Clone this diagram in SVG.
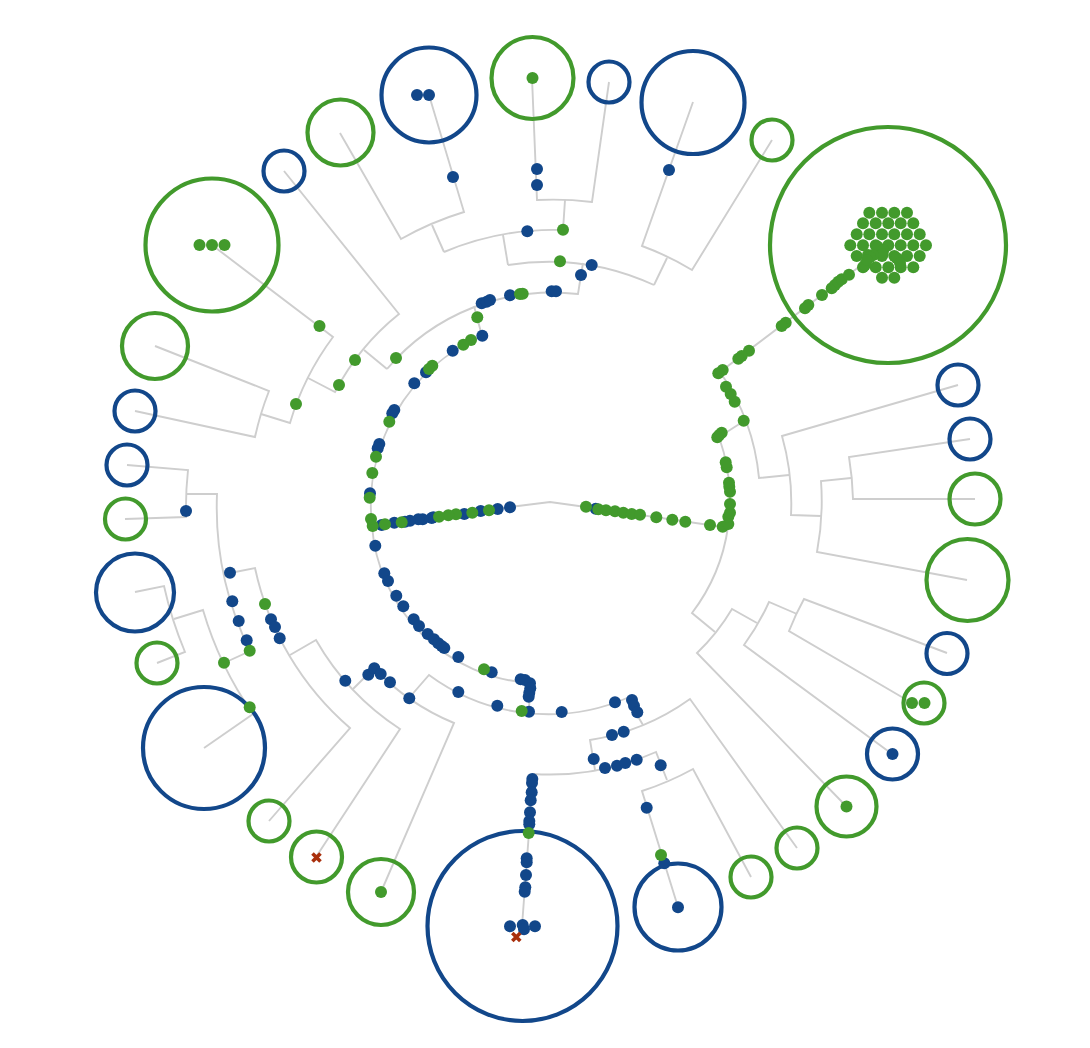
<svg xmlns="http://www.w3.org/2000/svg" width="1090" height="1048" viewBox="0 0 1090 1048">
<style>
.l{fill:none;stroke:#cecece;stroke-width:1.9}
.rb{fill:none;stroke:#12478a;stroke-width:4.2}
.rg{fill:none;stroke:#429a2c;stroke-width:4.2}
.b{fill:#12478a}
.g{fill:#429a2c}
.x{fill:none;stroke:#a92f0c;stroke-width:3.6}
</style>
<defs>
<circle id="d" r="6"/>
<path id="c" d="M-4-4L4 4M-4 4L4-4"/>
</defs>
<rect width="1090" height="1048" fill="#ffffff"/>
<g id="connectors" class="l">
<path d="M372 526L510 507L550 502L586 507L723 527"/>
<path d="M530 683A170 170 0 0 1 372 526A185 185 0 0 1 482 336L474 306"/>
<path d="M530 683L529 712"/>
<path d="M387 369A217 217 0 0 1 578 294L581 275L583 263"/>
<path d="M508 265A254 254 0 0 1 654 285"/>
<path d="M508 265L503 235"/>
<path d="M444 252A282 282 0 0 1 563 230L565 200"/>
<path d="M532 78L537 200A313 313 0 0 1 592 202L609 82"/>
<path d="M432 225L444 252"/>
<path d="M340 133L401 239A310 310 0 0 1 464 212L429 95"/>
<path d="M654 285L667 258"/>
<path d="M693 102L642 246A283 283 0 0 1 692 270L772 140"/>
<path d="M364 350L387 369"/>
<path d="M284 171L399 314A244 244 0 0 0 335 392L308 378"/>
<path d="M212 245L333 337A272 272 0 0 0 290 423L261 414"/>
<path d="M155 346L269 391A300 300 0 0 0 255 437L135 411"/>
<path d="M187 494L217 494A328 328 0 0 0 250 651L224 663"/>
<path d="M127 465L188 470A360 360 0 0 0 186 517L125 519"/>
<path d="M174 619L203 610A354 354 0 0 0 253 714L204 748"/>
<path d="M135 592L164 586A385 385 0 0 0 185 652L157 663"/>
<path d="M230 573L255 568A292 292 0 0 0 350 728L269 821"/>
<path d="M290 655L316 640A261 261 0 0 0 400 729L316 857"/>
<path d="M353 689L374 668A231 231 0 0 0 454 723L381 892"/>
<path d="M409 698L429 675A200 200 0 0 0 627 698L643 725"/>
<path d="M797 848L690 699A234 234 0 0 1 590 740L595 770"/>
<path d="M533 774A262 262 0 0 0 656 752L667 780"/>
<path d="M678 907L642 791A290 290 0 0 0 693 769L751 877"/>
<path d="M533 774L529 832L522 926"/>
<path d="M719 437L744 421"/>
<path d="M888 245L720 372A220 220 0 0 1 759 478L789 475"/>
<path d="M958 385L782 436A245 245 0 0 1 791 515L821 516"/>
<path d="M851 478L821 481A275 275 0 0 1 817 552L967 580"/>
<path d="M970 439L849 457A305 305 0 0 1 853 499L975 499"/>
<path d="M719 437A190 190 0 0 1 728 527"/>
<path d="M728 527A185 185 0 0 1 692 613L715 632"/>
<path d="M846 806L697 653A208 208 0 0 0 732 609L757 623"/>
<path d="M892 754L744 645A240 240 0 0 0 769 602L797 614"/>
<path d="M947 653L804 599A270 270 0 0 0 789 631L912 703"/>
</g>
<g id="n-blue-1"><circle class="rb" cx="429" cy="95" r="47.5"/></g>
<g id="n-blue-2"><circle class="rb" cx="609" cy="82" r="20.5"/></g>
<g id="n-blue-3"><circle class="rb" cx="693" cy="102.5" r="51.5"/></g>
<g id="n-blue-4"><circle class="rb" cx="958" cy="385" r="20.5"/></g>
<g id="n-blue-5"><circle class="rb" cx="970" cy="439" r="20.5"/></g>
<g id="n-blue-6"><circle class="rb" cx="947" cy="653.5" r="20.5"/></g>
<g id="n-blue-7"><circle class="rb" cx="892.5" cy="754" r="25.5"/></g>
<g id="n-blue-8"><circle class="rb" cx="678" cy="907" r="43.5"/></g>
<g id="n-blue-9"><circle class="rb" cx="522.5" cy="926" r="95"/></g>
<g id="n-blue-10"><circle class="rb" cx="204" cy="748" r="61"/></g>
<g id="n-blue-11"><circle class="rb" cx="135" cy="592.5" r="39"/></g>
<g id="n-blue-12"><circle class="rb" cx="127" cy="465" r="20.5"/></g>
<g id="n-blue-13"><circle class="rb" cx="135" cy="411" r="20.5"/></g>
<g id="n-blue-14"><circle class="rb" cx="284" cy="171" r="20.5"/></g>
<g id="n-green-1"><circle class="rg" cx="532.5" cy="78" r="41"/></g>
<g id="n-green-2"><circle class="rg" cx="772" cy="140" r="20.5"/></g>
<g id="n-green-3"><circle class="rg" cx="888" cy="245" r="118"/></g>
<g id="n-green-4"><circle class="rg" cx="975" cy="499" r="25.5"/></g>
<g id="n-green-5"><circle class="rg" cx="967.5" cy="580" r="41"/></g>
<g id="n-green-6"><circle class="rg" cx="924" cy="703" r="20.5"/></g>
<g id="n-green-7"><circle class="rg" cx="846.5" cy="806.5" r="30"/></g>
<g id="n-green-8"><circle class="rg" cx="797" cy="848" r="20.5"/></g>
<g id="n-green-9"><circle class="rg" cx="751" cy="877" r="20.5"/></g>
<g id="n-green-10"><circle class="rg" cx="381" cy="892" r="33"/></g>
<g id="n-green-11"><circle class="rg" cx="316.5" cy="857" r="25.5"/></g>
<g id="n-green-12"><circle class="rg" cx="269" cy="821" r="20.5"/></g>
<g id="n-green-13"><circle class="rg" cx="157" cy="663" r="20.5"/></g>
<g id="n-green-14"><circle class="rg" cx="125.5" cy="519" r="20.5"/></g>
<g id="n-green-15"><circle class="rg" cx="155" cy="346" r="33"/></g>
<g id="n-green-16"><circle class="rg" cx="212" cy="245" r="66.5"/></g>
<g id="n-green-17"><circle class="rg" cx="340.5" cy="132.5" r="33"/></g>
<g id="dots-blue" class="b">
<use href="#d" x="417" y="95"/><use href="#d" x="429" y="95"/><use href="#d" x="453" y="177"/><use href="#d" x="537" y="169"/><use href="#d" x="537" y="185"/><use href="#d" x="669" y="170"/>
<use href="#d" x="186" y="511"/><use href="#d" x="892.5" y="754"/><use href="#d" x="678" y="907.3"/>
<use href="#d" x="527.3" y="231.3"/><use href="#d" x="591.7" y="265"/><use href="#d" x="581" y="275"/><use href="#d" x="551.7" y="291.3"/><use href="#d" x="556" y="291.3"/><use href="#d" x="510" y="295.3"/><use href="#d" x="481.7" y="303.3"/><use href="#d" x="486.7" y="301.7"/><use href="#d" x="490" y="300"/>
<use href="#d" x="482.3" y="335.7"/><use href="#d" x="452.7" y="350.7"/><use href="#d" x="426" y="372.3"/><use href="#d" x="414.3" y="383.3"/><use href="#d" x="394.3" y="410"/><use href="#d" x="392.3" y="413.3"/><use href="#d" x="379.3" y="444"/><use href="#d" x="377.7" y="448.3"/><use href="#d" x="370" y="493.3"/>
<use href="#d" x="510" y="507.3"/><use href="#d" x="497.7" y="509"/><use href="#d" x="480.7" y="511"/><use href="#d" x="464.3" y="514"/><use href="#d" x="433.3" y="517.3"/><use href="#d" x="431.7" y="518"/><use href="#d" x="422.7" y="519.3"/><use href="#d" x="418.3" y="519.3"/><use href="#d" x="410" y="520.7"/><use href="#d" x="405" y="521.7"/><use href="#d" x="394.3" y="522.7"/><use href="#d" x="381.7" y="525"/><use href="#d" x="595.7" y="508.7"/>
<use href="#d" x="375.3" y="545.7"/><use href="#d" x="384.3" y="573.3"/><use href="#d" x="388" y="581"/><use href="#d" x="396.3" y="595.7"/><use href="#d" x="403.3" y="606.3"/><use href="#d" x="413.7" y="619.3"/><use href="#d" x="419" y="626"/><use href="#d" x="427.7" y="634"/><use href="#d" x="434" y="639.3"/><use href="#d" x="438.3" y="643.3"/><use href="#d" x="441.7" y="646"/><use href="#d" x="444.3" y="648"/><use href="#d" x="458.3" y="657"/><use href="#d" x="491.7" y="672.3"/><use href="#d" x="520.7" y="679.3"/><use href="#d" x="525" y="680"/><use href="#d" x="530" y="683.3"/><use href="#d" x="530.3" y="688.3"/><use href="#d" x="529.3" y="692.7"/><use href="#d" x="528.7" y="696.7"/><use href="#d" x="529" y="711.7"/>
<use href="#d" x="230" y="572.7"/><use href="#d" x="232.3" y="601.3"/><use href="#d" x="238.7" y="621"/><use href="#d" x="246.7" y="640.3"/><use href="#d" x="271" y="619.3"/><use href="#d" x="275" y="627"/><use href="#d" x="279.7" y="638.3"/><use href="#d" x="345.3" y="680.7"/>
<use href="#d" x="368.3" y="674.7"/><use href="#d" x="374.3" y="668.3"/><use href="#d" x="380.7" y="674"/><use href="#d" x="390" y="682.3"/><use href="#d" x="409.3" y="698.3"/><use href="#d" x="458.3" y="692"/><use href="#d" x="497.3" y="705.7"/><use href="#d" x="561.7" y="712"/><use href="#d" x="615" y="702.3"/><use href="#d" x="632" y="700"/><use href="#d" x="634" y="705.7"/><use href="#d" x="637.3" y="712.3"/><use href="#d" x="623.7" y="731.7"/><use href="#d" x="612" y="735"/><use href="#d" x="593.7" y="759"/><use href="#d" x="605" y="768"/><use href="#d" x="617" y="765.7"/><use href="#d" x="625.3" y="763"/><use href="#d" x="636.7" y="759.7"/><use href="#d" x="660.7" y="765.3"/><use href="#d" x="646.7" y="807.7"/><use href="#d" x="664.3" y="863.3"/>
<use href="#d" x="532.3" y="779"/><use href="#d" x="532" y="783"/><use href="#d" x="531.7" y="792.3"/><use href="#d" x="530.7" y="800.3"/><use href="#d" x="530" y="812.3"/><use href="#d" x="529.3" y="821"/><use href="#d" x="529.3" y="824.3"/><use href="#d" x="526.7" y="858.3"/><use href="#d" x="526.7" y="862.3"/><use href="#d" x="526" y="875"/><use href="#d" x="525.3" y="887.3"/><use href="#d" x="524.7" y="891.7"/><use href="#d" x="510" y="926.3"/><use href="#d" x="522.7" y="925"/><use href="#d" x="524" y="929.3"/><use href="#d" x="535" y="926.3"/>
</g>
<g id="dots-green" class="g">
<use href="#d" x="532.5" y="78"/><use href="#d" x="199.5" y="245"/><use href="#d" x="212" y="245"/><use href="#d" x="224.5" y="245"/><use href="#d" x="381" y="892"/><use href="#d" x="846.5" y="806.5"/><use href="#d" x="912" y="703"/><use href="#d" x="924.5" y="703"/>
<use href="#d" x="563" y="229.7"/><use href="#d" x="560" y="261.3"/><use href="#d" x="520" y="294"/><use href="#d" x="522.7" y="293.7"/><use href="#d" x="477.3" y="317.3"/><use href="#d" x="471" y="340"/><use href="#d" x="463.3" y="344.7"/><use href="#d" x="432.3" y="365.7"/><use href="#d" x="429" y="369"/><use href="#d" x="389.3" y="421.7"/><use href="#d" x="376" y="456.7"/><use href="#d" x="372.3" y="473"/><use href="#d" x="369.7" y="497.7"/>
<use href="#d" x="396" y="358"/><use href="#d" x="355" y="360"/><use href="#d" x="339" y="385"/><use href="#d" x="296" y="404"/><use href="#d" x="319.5" y="326"/>
<use href="#d" x="489" y="510.3"/><use href="#d" x="472.3" y="512.7"/><use href="#d" x="456" y="514.3"/><use href="#d" x="448.3" y="515.3"/><use href="#d" x="439" y="516.7"/><use href="#d" x="401.7" y="522.3"/><use href="#d" x="385" y="524.3"/><use href="#d" x="372.7" y="526"/><use href="#d" x="371" y="519"/>
<use href="#d" x="484" y="669.3"/><use href="#d" x="521.7" y="711"/><use href="#d" x="528.7" y="833"/><use href="#d" x="661" y="855"/>
<use href="#d" x="265" y="604"/><use href="#d" x="249.7" y="650.7"/><use href="#d" x="224" y="662.7"/><use href="#d" x="249.7" y="707.3"/>
<use href="#d" x="586" y="506.7"/><use href="#d" x="598.3" y="509.3"/><use href="#d" x="606" y="510.3"/><use href="#d" x="615" y="511.3"/><use href="#d" x="623.3" y="512.7"/><use href="#d" x="631.7" y="514"/><use href="#d" x="640" y="514.7"/><use href="#d" x="656.3" y="517.3"/><use href="#d" x="672.3" y="519.7"/><use href="#d" x="685.3" y="521.7"/><use href="#d" x="710" y="525"/><use href="#d" x="722.7" y="526.7"/><use href="#d" x="728.3" y="524"/><use href="#d" x="728.3" y="516.7"/><use href="#d" x="730" y="512.7"/><use href="#d" x="730" y="504"/><use href="#d" x="730" y="491.7"/><use href="#d" x="729.3" y="486.7"/><use href="#d" x="729" y="482.7"/><use href="#d" x="726.7" y="467.3"/><use href="#d" x="725.7" y="462.3"/><use href="#d" x="721.7" y="432.7"/><use href="#d" x="719.3" y="435"/><use href="#d" x="717.3" y="437.3"/><use href="#d" x="743.7" y="420.7"/><use href="#d" x="734.7" y="401.7"/><use href="#d" x="730.7" y="394"/><use href="#d" x="726" y="386.7"/><use href="#d" x="722.7" y="370"/><use href="#d" x="718.3" y="373.3"/><use href="#d" x="749" y="350.7"/><use href="#d" x="741.7" y="356"/><use href="#d" x="738.3" y="358.7"/><use href="#d" x="785.7" y="322.7"/><use href="#d" x="781.7" y="326"/><use href="#d" x="808.3" y="305"/><use href="#d" x="805" y="308.3"/><use href="#d" x="822" y="295"/><use href="#d" x="831.7" y="288.3"/><use href="#d" x="835" y="285"/><use href="#d" x="838.3" y="281.7"/><use href="#d" x="841.7" y="279.3"/><use href="#d" x="849" y="274.7"/>
<use href="#d" x="869.3" y="212.7"/><use href="#d" x="882" y="212.7"/><use href="#d" x="894.3" y="212.7"/><use href="#d" x="907" y="212.7"/>
<use href="#d" x="863" y="223.3"/><use href="#d" x="875.7" y="223.3"/><use href="#d" x="888.3" y="223.3"/><use href="#d" x="900.7" y="223.3"/><use href="#d" x="913.3" y="223.3"/>
<use href="#d" x="856.7" y="234.3"/><use href="#d" x="869.3" y="234.3"/><use href="#d" x="882" y="234.3"/><use href="#d" x="894.3" y="234.3"/><use href="#d" x="907" y="234.3"/><use href="#d" x="919.7" y="234.3"/>
<use href="#d" x="850.3" y="245.3"/><use href="#d" x="863" y="245.3"/><use href="#d" x="875.7" y="245.3"/><use href="#d" x="888.3" y="245.3"/><use href="#d" x="900.7" y="245.3"/><use href="#d" x="913.3" y="245.3"/><use href="#d" x="926" y="245.3"/>
<use href="#d" x="856.7" y="256"/><use href="#d" x="869.3" y="256"/><use href="#d" x="882" y="256"/><use href="#d" x="894.3" y="256"/><use href="#d" x="907" y="256"/><use href="#d" x="919.7" y="256"/>
<use href="#d" x="863" y="267.3"/><use href="#d" x="875.7" y="267.3"/><use href="#d" x="888.3" y="267.3"/><use href="#d" x="900.7" y="267.3"/><use href="#d" x="913.3" y="267.3"/>
<use href="#d" x="882" y="277.7"/><use href="#d" x="894.3" y="277.7"/>
<use href="#d" x="877.7" y="246.7"/><use href="#d" x="883.3" y="250"/><use href="#d" x="882.7" y="254"/><use href="#d" x="868" y="255"/><use href="#d" x="873" y="255"/><use href="#d" x="865" y="265"/><use href="#d" x="870" y="257"/><use href="#d" x="896.7" y="258"/><use href="#d" x="900" y="263"/><use href="#d" x="867" y="260"/>
</g>
<g id="crosses" class="x">
<use href="#c" x="316.5" y="857.5"/>
<use href="#c" x="516.3" y="937"/>
</g>
</svg>
